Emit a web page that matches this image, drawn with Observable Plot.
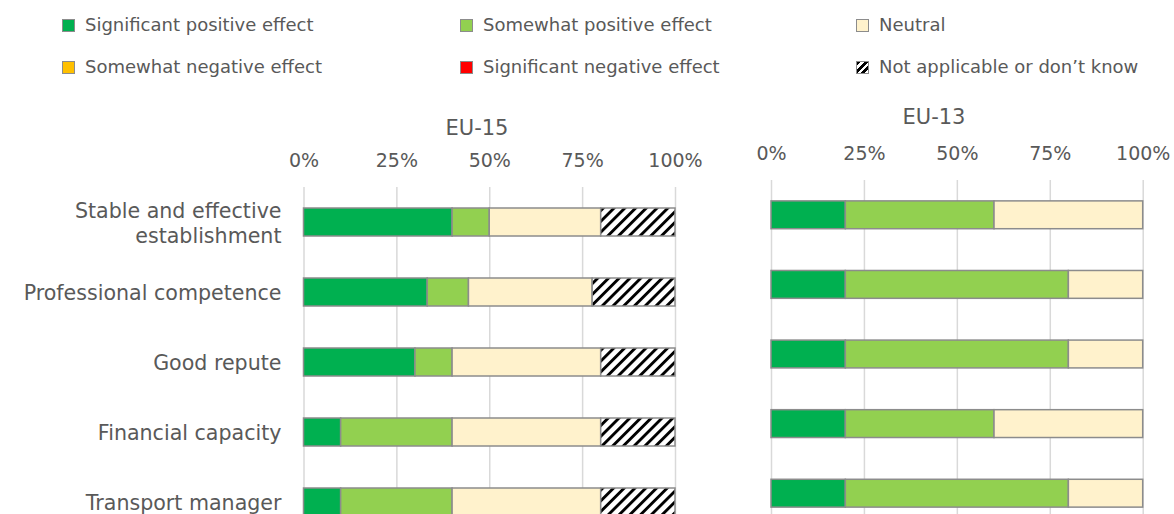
<!DOCTYPE html>
<html>
<head>
<meta charset="utf-8">
<script src="https://cdn.jsdelivr.net/npm/d3@7"></script>
<script src="https://cdn.jsdelivr.net/npm/@observablehq/plot@0.6"></script>
<style>
  html, body { margin: 0; padding: 0; background: #fff; }
  body { width: 1174px; height: 514px; overflow: hidden; position: relative; font-family: "DejaVu Sans", Verdana, sans-serif; color: #595959; }
  .abs { position: absolute; }
  .abs svg { max-width: none !important; }
  .leg { position: absolute; font-size: 18px; line-height: 18px; white-space: nowrap; transform: translateY(-50%); }
  .sw { display: inline-block; width: 13px; height: 13px; border: 1px solid #8c8c8c; box-sizing: border-box; vertical-align: middle; margin-right: 10px; position: relative; top: -1px; }
  .title { position: absolute; font-size: 21px; transform: translate(-50%, -50%); white-space: nowrap; }
</style>
</head>
<body>
<div id="legend"></div>
<div class="title" style="left:477px; top:127.5px;">EU-15</div>
<div class="title" style="left:934px; top:117px;">EU-13</div>
<div id="left" class="abs" style="left:0px; top:100px; width:720px;"></div>
<div id="right" class="abs" style="left:740px; top:100px; width:445px;"></div>
<script>
// ---- Data ----
const categories = ["Stable and effective establishment", "Professional competence", "Good repute", "Financial capacity", "Transport manager"];
const categoryLabels = ["Stable and effective\nestablishment", "Professional competence", "Good repute", "Financial capacity", "Transport manager"];
const effects = ["Significant positive effect", "Somewhat positive effect", "Neutral", "Somewhat negative effect", "Significant negative effect", "Not applicable or don’t know"];
const effectColors = ["#00B050", "#92D050", "#FFF2CC", "#FFC000", "#FF0000", "url(#hatch)"];
const ticks = [0, 25, 50, 75, 100];

const eu15SignificantPositive = [40, 33.3, 30, 10, 10];
const eu15SomewhatPositive   = [10, 11.1, 10, 30, 30];
const eu15Neutral            = [30, 33.3, 40, 40, 40];
const eu15SomewhatNegative   = [0, 0, 0, 0, 0];
const eu15SignificantNegative= [0, 0, 0, 0, 0];
const eu15NotApplicable      = [20, 22.3, 20, 20, 20];

const eu13SignificantPositive = [20, 20, 20, 20, 20];
const eu13SomewhatPositive   = [40, 60, 60, 40, 60];
const eu13Neutral            = [40, 20, 20, 40, 20];
const eu13SomewhatNegative   = [0, 0, 0, 0, 0];
const eu13SignificantNegative= [0, 0, 0, 0, 0];
const eu13NotApplicable      = [0, 0, 0, 0, 0];

function table(series) {
  const rows = [];
  categories.forEach((c, i) => {
    effects.forEach((e, j) => {
      const v = series[j][i];
      if (v > 0) rows.push({category: c, effect: e, value: v});
    });
  });
  return rows;
}
const eu15 = table([eu15SignificantPositive, eu15SomewhatPositive, eu15Neutral, eu15SomewhatNegative, eu15SignificantNegative, eu15NotApplicable]);
const eu13 = table([eu13SignificantPositive, eu13SomewhatPositive, eu13Neutral, eu13SomewhatNegative, eu13SignificantNegative, eu13NotApplicable]);

// ---- Legend ----
const legendPos = [[62, 25], [460, 25], [856, 25], [62, 67], [460, 67], [856, 67]];
const legend = document.getElementById("legend");
effects.forEach((e, i) => {
  const d = document.createElement("div");
  d.className = "leg";
  d.style.left = legendPos[i][0] + "px";
  d.style.top = legendPos[i][1] + "px";
  const sw = document.createElement("span");
  sw.className = "sw";
  if (effectColors[i].startsWith("url")) {
    sw.style.background = "repeating-linear-gradient(135deg, #000 0 2.6px, #fff 2.6px 5.2px)";
  } else {
    sw.style.background = effectColors[i];
  }
  d.appendChild(sw);
  d.appendChild(document.createTextNode(e));
  legend.appendChild(d);
});

const hatchDefs = `<pattern id="hatch" patternUnits="userSpaceOnUse" width="7.6" height="7.6" patternTransform="rotate(45)">
  <rect width="7.6" height="7.6" fill="#fff"></rect><rect width="2.9" height="7.6" fill="#000"></rect></pattern>`;

function panel({data, width, marginLeft, marginRight, marginTop, frameHeight, showY}) {
  const marks = [
    Plot.gridX(ticks, {stroke: "#d9d9d9", strokeOpacity: 1, strokeWidth: 1.5}),
    Plot.axisX(ticks, {anchor: "top", tickSize: 0, tickPadding: 20.5, fontSize: 19, label: null, tickFormat: d => d + "%"}),
    Plot.barX(data, {
      x: "value", y: "category", fill: "effect",
      order: effects,
      stroke: "#8c8c8c", strokeWidth: 1.5
    })
  ];
  if (showY) {
    marks.push(Plot.axisY({tickSize: 0, tickPadding: 22.5, fontSize: 20.6, lineHeight: 1.2, label: null,
      tickFormat: d => categoryLabels[categories.indexOf(d)]}));
  }
  const svg = Plot.plot({
    width, height: marginTop + frameHeight,
    marginLeft, marginRight, marginTop, marginBottom: 0,
    style: {fontFamily: "DejaVu Sans, Verdana, sans-serif", color: "#595959", background: "transparent", overflow: "visible", maxWidth: "none"},
    x: {domain: [0, 100], axis: null},
    y: {domain: categories, paddingInner: 0.6, paddingOuter: 0.3, axis: null, round: false},
    color: {type: "ordinal", domain: effects, range: effectColors},
    marks
  });
  const defs = document.createElementNS("http://www.w3.org/2000/svg", "defs");
  defs.innerHTML = hatchDefs;
  svg.insertBefore(defs, svg.firstChild);
  return svg;
}

document.getElementById("left").appendChild(panel({
  data: eu15, width: 720, marginLeft: 303.5, marginRight: 45, marginTop: 87, frameHeight: 350, showY: true
}));
const rightSvg = panel({
  data: eu13, width: 445, marginLeft: 31, marginRight: 42.3, marginTop: 80, frameHeight: 348, showY: false
});
rightSvg.querySelector("defs").remove();
document.getElementById("right").appendChild(rightSvg);
</script>
</body>
</html>
